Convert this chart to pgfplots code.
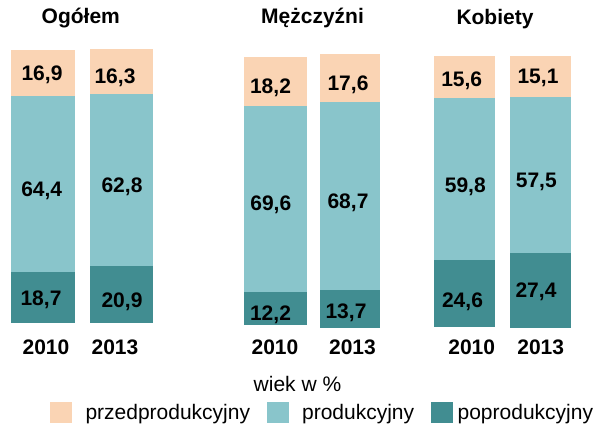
\documentclass[border=0pt]{standalone}
\usepackage{pgfplots}
\pgfplotsset{compat=1.18}
\usepackage{fontspec}
\setmainfont{Liberation Sans}
\definecolor{cPre}{HTML}{FAD4B4}
\definecolor{cPro}{HTML}{89C5CB}
\definecolor{cPost}{HTML}{418D91}
\pgfplotsset{barax/.style={hide axis, scale only axis, width=596pt, xmin=0, xmax=596, ymin=0, ymax=100,
  ybar stacked, clip=false, anchor=south west}}
\begin{document}
\begin{tikzpicture}
\path[use as bounding box] (0,0) rectangle (596pt,427pt);
% Ogolem 2010
\begin{axis}[barax, at={(0pt,104pt)}, height=273pt, bar width=64pt,
  legend image code/.code={\fill[#1] (0pt,-10.5pt) rectangle (22pt,10.5pt);},
  reverse legend, legend columns=3,
  legend style={draw=none, fill=none, inner sep=0pt, outer sep=0pt,
    at={(0.0839,-0.3278)}, anchor=west, nodes={inner sep=0pt},
    font=\fontsize{21}{25}\selectfont,
    /tikz/every odd column/.append style={column sep=13.5pt},
    /tikz/every even column/.append style={column sep=16.5pt}},
  legend cell align=left]
\addplot[fill=cPost, draw=none] coordinates {(43,18.7)};
\addplot[fill=cPro, draw=none] coordinates {(43,64.4)};
\addplot[fill=cPre, draw=none] coordinates {(43,16.9)};
\legend{\hspace{-8.5pt}poprodukcyjny, produkcyjny, przedprodukcyjny}
\end{axis}
% Ogolem 2013
\begin{axis}[barax, at={(0pt,104pt)}, height=274pt, bar width=63pt]
\addplot[fill=cPost, draw=none] coordinates {(121.5,20.9)};
\addplot[fill=cPro, draw=none] coordinates {(121.5,62.8)};
\addplot[fill=cPre, draw=none] coordinates {(121.5,16.3)};
\end{axis}
% Mezczyzni 2010
\begin{axis}[barax, at={(0pt,102pt)}, height=268pt, bar width=63pt]
\addplot[fill=cPost, draw=none] coordinates {(275.5,12.2)};
\addplot[fill=cPro, draw=none] coordinates {(275.5,69.6)};
\addplot[fill=cPre, draw=none] coordinates {(275.5,18.2)};
\end{axis}
% Mezczyzni 2013
\begin{axis}[barax, at={(0pt,99pt)}, height=274pt, bar width=60pt]
\addplot[fill=cPost, draw=none] coordinates {(350,13.7)};
\addplot[fill=cPro, draw=none] coordinates {(350,68.7)};
\addplot[fill=cPre, draw=none] coordinates {(350,17.6)};
\end{axis}
% Kobiety 2010
\begin{axis}[barax, at={(0pt,100pt)}, height=271pt, bar width=61pt]
\addplot[fill=cPost, draw=none] coordinates {(464.5,24.6)};
\addplot[fill=cPro, draw=none] coordinates {(464.5,59.8)};
\addplot[fill=cPre, draw=none] coordinates {(464.5,15.6)};
\end{axis}
% Kobiety 2013
\begin{axis}[barax, at={(0pt,99pt)}, height=272pt, bar width=61pt]
\addplot[fill=cPost, draw=none] coordinates {(540.5,27.4)};
\addplot[fill=cPro, draw=none] coordinates {(540.5,57.5)};
\addplot[fill=cPre, draw=none] coordinates {(540.5,15.1)};
\end{axis}
% texts (pixel frame, y downward)
\begin{scope}[x=1pt, y=-1pt, yshift=427pt,
  every node/.style={inner sep=0pt, anchor=base, font=\fontsize{21}{25}\selectfont\bfseries}]
\node at (80.8,24) {Ogółem};
\node at (312.5,24) {Mężczyźni};
\node at (495,24.5) {Kobiety};
\node at (42,80.5) {16,9};
\node at (115,84) {16,3};
\node at (41.7,196.2) {64,4};
\node at (122,192.5) {62,8};
\node at (41,305.5) {18,7};
\node at (122,307.5) {20,9};
\node at (270.5,94) {18,2};
\node at (348,91) {17,6};
\node at (270.8,210.5) {69,6};
\node at (348,208.3) {68,7};
\node at (270.5,320.5) {12,2};
\node at (346,318.5) {13,7};
\node at (461.7,86.5) {15,6};
\node at (538,83.5) {15,1};
\node at (465.3,192.2) {59,8};
\node at (536.3,188) {57,5};
\node at (462.5,307.2) {24,6};
\node at (536,297.5) {27,4};
\node at (46,355) {2010};
\node at (115,355) {2013};
\node at (275,355) {2010};
\node at (352.5,355) {2013};
\node at (471.7,355) {2010};
\node at (540.7,355) {2013};
\node[font=\fontsize{21}{25}\selectfont] at (297.5,392) {wiek w \%};
\end{scope}
\end{tikzpicture}
\end{document}
